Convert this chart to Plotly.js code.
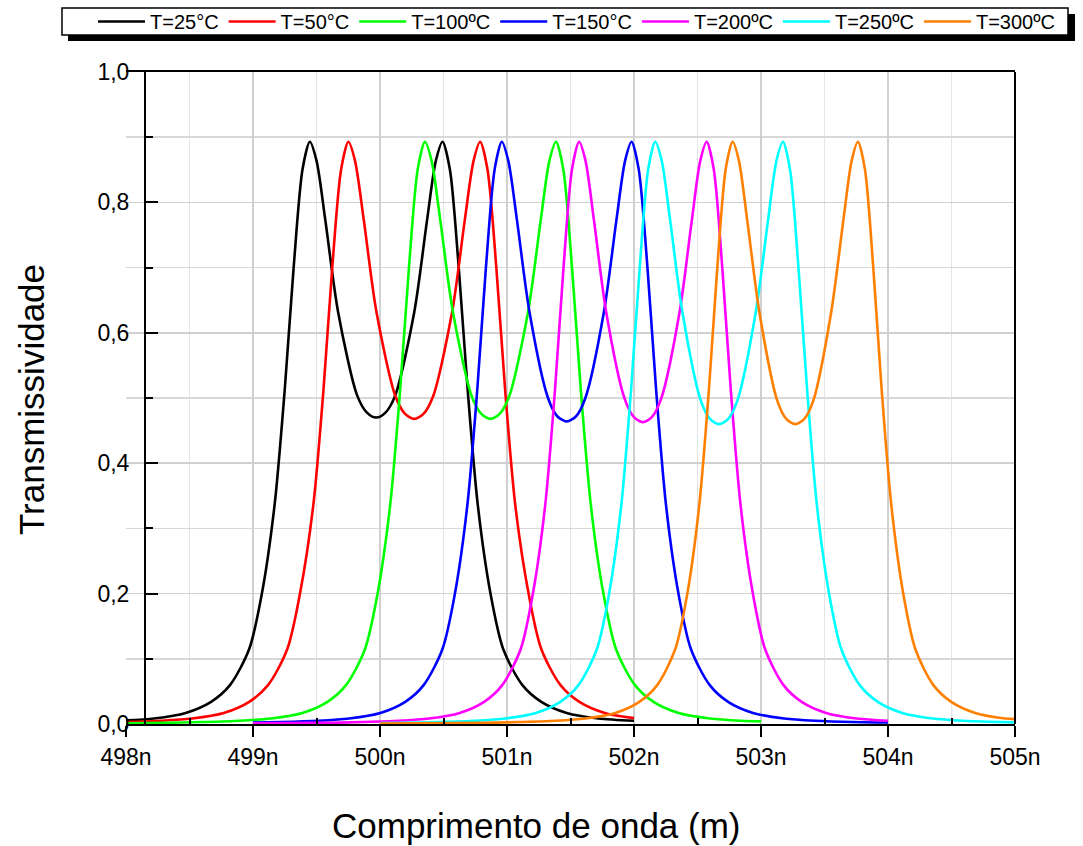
<!DOCTYPE html>
<html>
<head>
<meta charset="utf-8">
<script src="https://cdn.plot.ly/plotly-3.0.1.min.js"></script>
<style>html,body{margin:0;padding:0;background:#fff;}#chart{width:1083px;height:846px;}</style>
</head>
<body>
<div id="chart"></div>
<script>
// Series names (legend labels)
const seriesNames = ["T=25°C", "T=50°C", "T=100ºC", "T=150°C", "T=200ºC", "T=250ºC", "T=300ºC"];
const seriesColors = ["#000000", "#ff0000", "#00ff00", "#0000ff", "#ff00ff", "#00ffff", "#ff8000"];

// Wavelength (nm) and transmissivity
const x25 = [498.00, 498.22, 498.47, 498.67, 498.82, 498.97, 499.07, 499.17, 499.25, 499.32, 499.39, 499.4475, 499.50, 499.57, 499.67, 499.82, 499.895, 499.97, 500.045, 500.12, 500.27, 500.37, 500.44, 500.4925, 500.55, 500.62, 500.69, 500.77, 500.87, 500.97, 501.12, 501.27, 501.47, 501.72, 502.00];
const y25 = [0.0055, 0.0085, 0.017, 0.034, 0.06, 0.115, 0.2, 0.336, 0.513, 0.700, 0.851, 0.893, 0.864, 0.772, 0.632, 0.504, 0.478, 0.470, 0.478, 0.504, 0.632, 0.772, 0.864, 0.893, 0.851, 0.700, 0.513, 0.336, 0.2, 0.115, 0.06, 0.034, 0.017, 0.0085, 0.005];

const x50 = [498.00, 498.27, 498.52, 498.77, 498.97, 499.12, 499.27, 499.37, 499.475, 499.555, 499.624, 499.694, 499.751, 499.803, 499.873, 499.972, 500.121, 500.196, 500.27, 500.344, 500.419, 500.568, 500.667, 500.737, 500.789, 500.846, 500.916, 500.985, 501.065, 501.17, 501.27, 501.42, 501.57, 501.77, 502.00];
const y50 = [0.003, 0.005, 0.0085, 0.017, 0.034, 0.06, 0.115, 0.2, 0.336, 0.513, 0.700, 0.851, 0.893, 0.864, 0.772, 0.632, 0.503, 0.476, 0.468, 0.476, 0.503, 0.632, 0.772, 0.864, 0.893, 0.851, 0.700, 0.513, 0.336, 0.2, 0.115, 0.06, 0.034, 0.017, 0.009];

const x100 = [498.00, 498.30, 498.60, 498.895, 499.142, 499.389, 499.586, 499.734, 499.882, 499.981, 500.08, 500.159, 500.228, 500.297, 500.354, 500.406, 500.475, 500.574, 500.722, 500.796, 500.87, 500.944, 501.018, 501.166, 501.265, 501.334, 501.386, 501.443, 501.512, 501.581, 501.66, 501.759, 501.858, 502.006, 502.154, 502.351, 502.598, 502.845, 503.00];
const y100 = [0.001, 0.0017, 0.003, 0.005, 0.0085, 0.017, 0.034, 0.06, 0.115, 0.2, 0.336, 0.513, 0.700, 0.851, 0.893, 0.864, 0.772, 0.632, 0.503, 0.476, 0.468, 0.476, 0.503, 0.632, 0.772, 0.864, 0.893, 0.851, 0.700, 0.513, 0.336, 0.2, 0.115, 0.06, 0.034, 0.017, 0.0085, 0.005, 0.004];

const x150 = [499.00, 499.22, 499.514, 499.758, 500.003, 500.199, 500.345, 500.492, 500.59, 500.688, 500.766, 500.834, 500.903, 500.959, 501.01, 501.079, 501.177, 501.323, 501.396, 501.47, 501.544, 501.617, 501.763, 501.861, 501.93, 501.981, 502.037, 502.106, 502.174, 502.252, 502.35, 502.448, 502.595, 502.741, 502.937, 503.182, 503.426, 503.72, 504.00];
const y150 = [0.0022, 0.003, 0.005, 0.0085, 0.017, 0.034, 0.06, 0.115, 0.2, 0.336, 0.513, 0.700, 0.851, 0.893, 0.864, 0.772, 0.632, 0.500, 0.472, 0.464, 0.472, 0.500, 0.632, 0.772, 0.864, 0.893, 0.851, 0.700, 0.513, 0.336, 0.2, 0.115, 0.06, 0.034, 0.017, 0.0085, 0.005, 0.003, 0.0022];

const x200 = [499.00, 499.57, 499.858, 500.147, 500.387, 500.627, 500.82, 500.964, 501.108, 501.204, 501.301, 501.378, 501.445, 501.512, 501.5675, 501.618, 501.685, 501.781, 501.926, 501.998, 502.07, 502.142, 502.214, 502.359, 502.455, 502.522, 502.5725, 502.628, 502.695, 502.762, 502.839, 502.936, 503.032, 503.176, 503.32, 503.513, 503.753, 504.00];
const y200 = [0.001, 0.0017, 0.003, 0.005, 0.0085, 0.017, 0.034, 0.06, 0.115, 0.2, 0.336, 0.513, 0.700, 0.851, 0.893, 0.864, 0.772, 0.632, 0.499, 0.471, 0.463, 0.471, 0.499, 0.632, 0.772, 0.864, 0.893, 0.851, 0.700, 0.513, 0.336, 0.2, 0.115, 0.06, 0.034, 0.017, 0.0085, 0.005];

const x250 = [500.00, 500.17, 500.458, 500.747, 500.987, 501.227, 501.42, 501.564, 501.708, 501.804, 501.90, 501.977, 502.045, 502.112, 502.167, 502.218, 502.285, 502.381, 502.526, 502.598, 502.67, 502.742, 502.814, 502.959, 503.055, 503.122, 503.173, 503.228, 503.295, 503.363, 503.44, 503.536, 503.632, 503.776, 503.92, 504.113, 504.353, 504.593, 504.882, 505.00];
const y250 = [0.0013, 0.0017, 0.003, 0.005, 0.0085, 0.017, 0.034, 0.06, 0.115, 0.2, 0.336, 0.513, 0.700, 0.851, 0.893, 0.864, 0.772, 0.632, 0.496, 0.468, 0.460, 0.468, 0.496, 0.632, 0.772, 0.864, 0.893, 0.851, 0.700, 0.513, 0.336, 0.2, 0.115, 0.06, 0.034, 0.017, 0.0085, 0.005, 0.003, 0.0025];

const x300 = [500.00, 500.814, 501.098, 501.381, 501.617, 501.853, 502.042, 502.184, 502.325, 502.42, 502.514, 502.59, 502.656, 502.722, 502.7765, 502.826, 502.892, 502.987, 503.128, 503.199, 503.27, 503.341, 503.412, 503.553, 503.648, 503.714, 503.7635, 503.818, 503.884, 503.95, 504.026, 504.12, 504.215, 504.356, 504.498, 504.687, 504.923, 505.00];
const y300 = [0.0007, 0.0017, 0.003, 0.005, 0.0085, 0.017, 0.034, 0.06, 0.115, 0.2, 0.336, 0.513, 0.700, 0.851, 0.893, 0.864, 0.772, 0.632, 0.496, 0.468, 0.460, 0.468, 0.496, 0.632, 0.772, 0.864, 0.893, 0.851, 0.700, 0.513, 0.336, 0.2, 0.115, 0.06, 0.034, 0.017, 0.0085, 0.0075];

// Axis ticks
const xTickVals = [498, 499, 500, 501, 502, 503, 504, 505];
const xTickText = ["498n", "499n", "500n", "501n", "502n", "503n", "504n", "505n"];
const xMinorVals = [498.5, 499.5, 500.5, 501.5, 502.5, 503.5, 504.5];
const yTickVals = [0, 0.2, 0.4, 0.6, 0.8, 1.0];
const yTickText = ["0,0", "0,2", "0,4", "0,6", "0,8", "1,0"];
const yMinorVals = [0.1, 0.3, 0.5, 0.7, 0.9];

const xs = [x25, x50, x100, x150, x200, x250, x300];
const ys = [y25, y50, y100, y150, y200, y250, y300];

const FONT = "Liberation Sans, Arial, sans-serif";

const traces = seriesNames.map((name, i) => ({
  type: "scatter",
  mode: "lines",
  name: name,
  x: xs[i],
  y: ys[i],
  line: {color: seriesColors[i], width: 2.6, shape: "spline", smoothing: 0.8}
}));

const layout = {
  width: 1083,
  height: 846,
  margin: {l: 126, r: 68, t: 72, b: 122, pad: 0, autoexpand: false},
  paper_bgcolor: "#ffffff",
  plot_bgcolor: "#ffffff",
  font: {family: FONT, color: "#000000"},
  showlegend: true,
  legend: {
    orientation: "h",
    x: -0.0371, y: 1.0775, xanchor: "left", yanchor: "middle",
    bgcolor: "rgba(0,0,0,0)", borderwidth: 0,
    font: {family: FONT, size: 20, color: "#000000"},
    itemwidth: 47,
    tracegroupgap: 0
  },
  xaxis: {
    range: [498, 505],
    tickmode: "array", tickvals: xTickVals, ticktext: xTickText,
    ticks: "outside", ticklen: 11, tickwidth: 2, tickcolor: "#000000",
    showline: true, linewidth: 2, linecolor: "#000000", mirror: true,
    showgrid: true, gridcolor: "#d0d0d0", gridwidth: 1.5,
    zeroline: false,
    tickfont: {family: FONT, size: 23, color: "#000000"},
    minor: {tickmode: "array", tickvals: xMinorVals, ticks: "inside", ticklen: 6, tickwidth: 2, tickcolor: "#000000", showgrid: true, gridcolor: "#e4e4e4", gridwidth: 1.5},
    fixedrange: true
  },
  yaxis: {
    range: [0, 1],
    anchor: "free", position: 0.0214, side: "left",
    tickmode: "array", tickvals: yTickVals, ticktext: yTickText,
    ticks: "inside", ticklen: 12, tickwidth: 2, tickcolor: "#000000",
    showline: true, linewidth: 2, linecolor: "#000000",
    showgrid: true, gridcolor: "#d0d0d0", gridwidth: 1.5,
    zeroline: false,
    ticklabelstandoff: 10,
    tickfont: {family: FONT, size: 23, color: "#000000"},
    minor: {tickmode: "array", tickvals: yMinorVals, ticks: "inside", ticklen: 7, tickwidth: 2, tickcolor: "#000000", showgrid: true, gridcolor: "#d8d8d8", gridwidth: 1.5},
    fixedrange: true
  },
  shapes: [
    {type: "line", xref: "paper", yref: "paper", x0: 1, x1: 1, y0: 0, y1: 1, line: {color: "#000000", width: 2}},
    // legend drop shadow and frame
    {type: "rect", xref: "paper", yref: "paper", x0: -0.0652, x1: 1.0675, y0: 1.0475, y1: 1.0890, fillcolor: "#000000", line: {width: 0}, layer: "above"},
    {type: "rect", xref: "paper", yref: "paper", x0: -0.0720, x1: 1.0596, y0: 1.0567, y1: 1.0982, fillcolor: "#ffffff", line: {color: "#000000", width: 1.5}, layer: "above"}
  ],
  annotations: [
    {text: "Comprimento de onda (m)", xref: "paper", yref: "paper", x: 0.4623, y: -0.155, xanchor: "center", yanchor: "middle", showarrow: false, font: {family: FONT, size: 35, color: "#000000"}},
    {text: "Transmissividade", xref: "paper", yref: "paper", x: -0.1057, y: 0.497, xanchor: "center", yanchor: "middle", textangle: -90, showarrow: false, font: {family: FONT, size: 35, color: "#000000"}}
  ]
};

Plotly.newPlot("chart", traces, layout, {displayModeBar: false, staticPlot: true});
</script>
</body>
</html>
